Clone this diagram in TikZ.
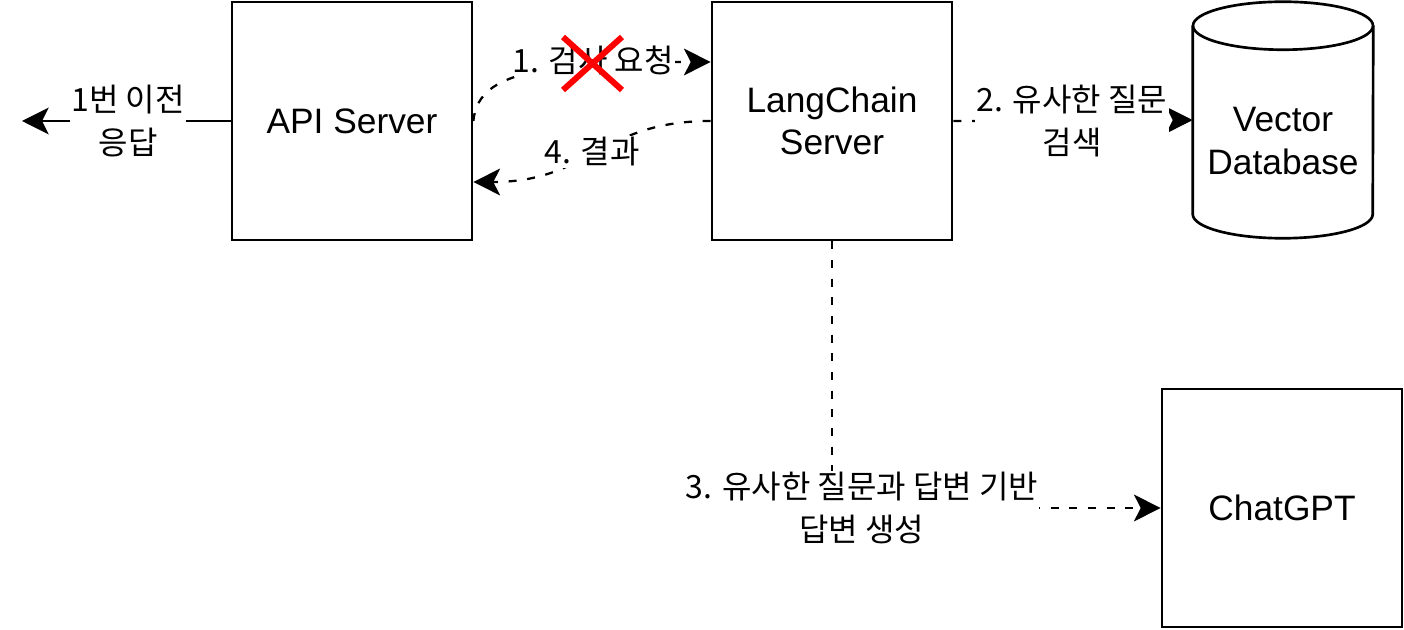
\documentclass[tikz,border=0pt]{standalone}
\usepackage{fontspec}
\setmainfont{Liberation Sans}
\newfontfamily\kr{Noto Sans CJK KR}
\usetikzlibrary{arrows.meta}

\begin{document}
\begin{tikzpicture}[x=0.75pt,y=-0.75pt,
    server/.style={draw,line width=2pt,minimum width=180pt,minimum height=178.5pt,
      align=center,font=\fontsize{26.5}{32}\selectfont},
    lbl/.style={fill=white,inner sep=1pt,align=center,font=\kr\fontsize{24}{32}\selectfont},
    flow/.style={line width=1.7pt,dash pattern=on 6pt off 8pt,
      -{Stealth[length=20pt,width=20pt,inset=5pt]}},
    plain/.style={line width=2pt,-{Stealth[length=20pt,width=20pt,inset=5pt]}}]
  \useasboundingbox (0,0) rectangle (1404,630);

  \node[server] (api) at (352,121) {API Server};
  \node[server] (lc) at (832,121) {LangChain\\Server};
  \node[server] (gpt) at (1282,508) {ChatGPT};
  \node[minimum width=135pt,minimum height=177pt,inner sep=0pt] (vdb) at (1283,120) {};
  \draw[line width=2pt] ([yshift=-18pt]vdb.north) ellipse [x radius=67.5pt,y radius=18pt];
  \draw[line width=2pt] ([yshift=-18pt]vdb.north west) -- ([yshift=18pt]vdb.south west)
    arc[start angle=180,end angle=360,x radius=67.5pt,y radius=18pt]
    -- ([yshift=-18pt]vdb.north east);
  \node[align=center,font=\fontsize{26.5}{32}\selectfont] (vdbtext) at (1283,141) {Vector\\Database};

  \coordinate (out) at (22,121);
  \draw[plain] (api.west) -- (out);
  \node[lbl] (l0) at (128,121) {1번 이전\\응답};

  \draw[flow] (api.east) .. controls (478,75) and (530,62) .. ([yshift=44.25pt]lc.west);
  \node[lbl] (l1) at (593,60) {1. 검사 요청};
  \draw[red,line width=4.5pt] (563,37) -- (622,90) (563,90) -- (622,37);

  \draw[flow] (lc.west) .. controls (600,121) and (590,182) .. ([yshift=-45.75pt]api.east);
  \node[lbl] (l4) at (592,152) {4. 결과};

  \draw[flow] (lc.east) -- (vdb.west);
  \node[lbl] (l2) at (1072,121) {2. 유사한 질문\\검색};

  \draw[flow] (lc.south) |- (gpt.west);
  \node[lbl] (l3) at (862,508) {3. 유사한 질문과 답변 기반\\답변 생성};
\end{tikzpicture}
\end{document}
